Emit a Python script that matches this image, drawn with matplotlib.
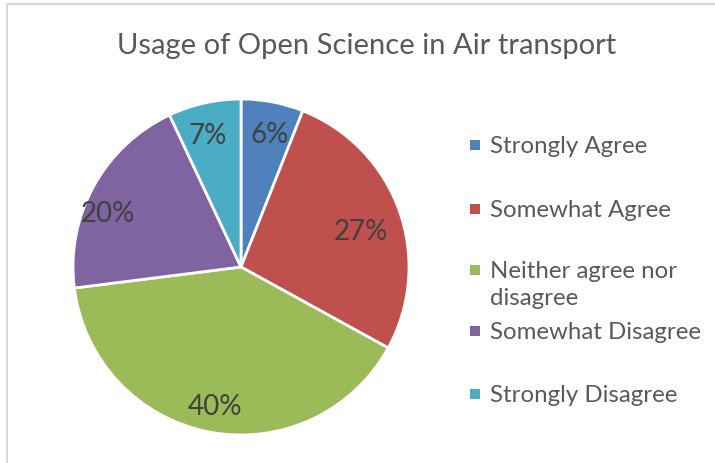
import matplotlib.pyplot as plt
from matplotlib.patches import Rectangle
from matplotlib.lines import Line2D

# Data
categories = ["Strongly Agree", "Somewhat Agree", "Neither agree nor\ndisagree",
              "Somewhat Disagree", "Strongly Disagree"]
values = [6, 27, 40, 20, 7]
colors = ["#4F81BD", "#C0504D", "#9BBB59", "#8064A2", "#4BACC6"]

plt.rcParams['font.family'] = ['Lato', 'DejaVu Sans']
txt_color = "#595959"

W, H = 715, 463
fig = plt.figure(figsize=(W / 100, H / 100), dpi=100)

# chart border (left and top visible)
fig.add_artist(Line2D([7 / W, 7 / W], [0, 1 - 4 / H], color="#D9D9D9", lw=1.5))
fig.add_artist(Line2D([7 / W, 1], [1 - 4 / H, 1 - 4 / H], color="#D9D9D9", lw=1.5))

fig.text(367 / W, 1 - 46 / H, "Usage of Open Science in Air transport",
         ha="center", va="center", fontsize=21, color=txt_color)

# pie
cx, cy, r = 241, 267, 168
ax = fig.add_axes([(cx - r) / W, 1 - (cy + r) / H, 2 * r / W, 2 * r / H])
wedges, texts, autotexts = ax.pie(values, colors=colors, startangle=90, counterclock=False,
                                  autopct='%1.0f%%', pctdistance=0.82,
                                  wedgeprops=dict(edgecolor="white", linewidth=2),
                                  textprops=dict(fontsize=20, color="#404040"))
# nudge labels (pixels) to Excel's best-fit spots
nudges = [(3, 3), (-10, 12), (0, 5), (-12, 13), (-3, 3)]
for t, (dx, dy) in zip(autotexts, nudges):
    x, y = t.get_position()
    t.set_position((x + dx / r, y - dy / r))
ax.set_xlim(-1, 1)
ax.set_ylim(-1, 1)
ax.set_aspect("equal")
ax.axis("off")

# legend drawn by hand (Excel-style uneven spacing)
legend_y = [145, 209, 270, 331, 394]
for lab, col, y in zip(categories, colors, legend_y):
    fig.add_artist(Rectangle((470 / W, 1 - (y + 5) / H), 10 / W, 10 / H,
                             facecolor=col, edgecolor="none"))
    fig.text(490 / W, 1 - (y - 9) / H, lab, ha="left", va="top", fontsize=17.3,
             color=txt_color, linespacing=1.35)

fig.savefig("out.png", dpi=100)
